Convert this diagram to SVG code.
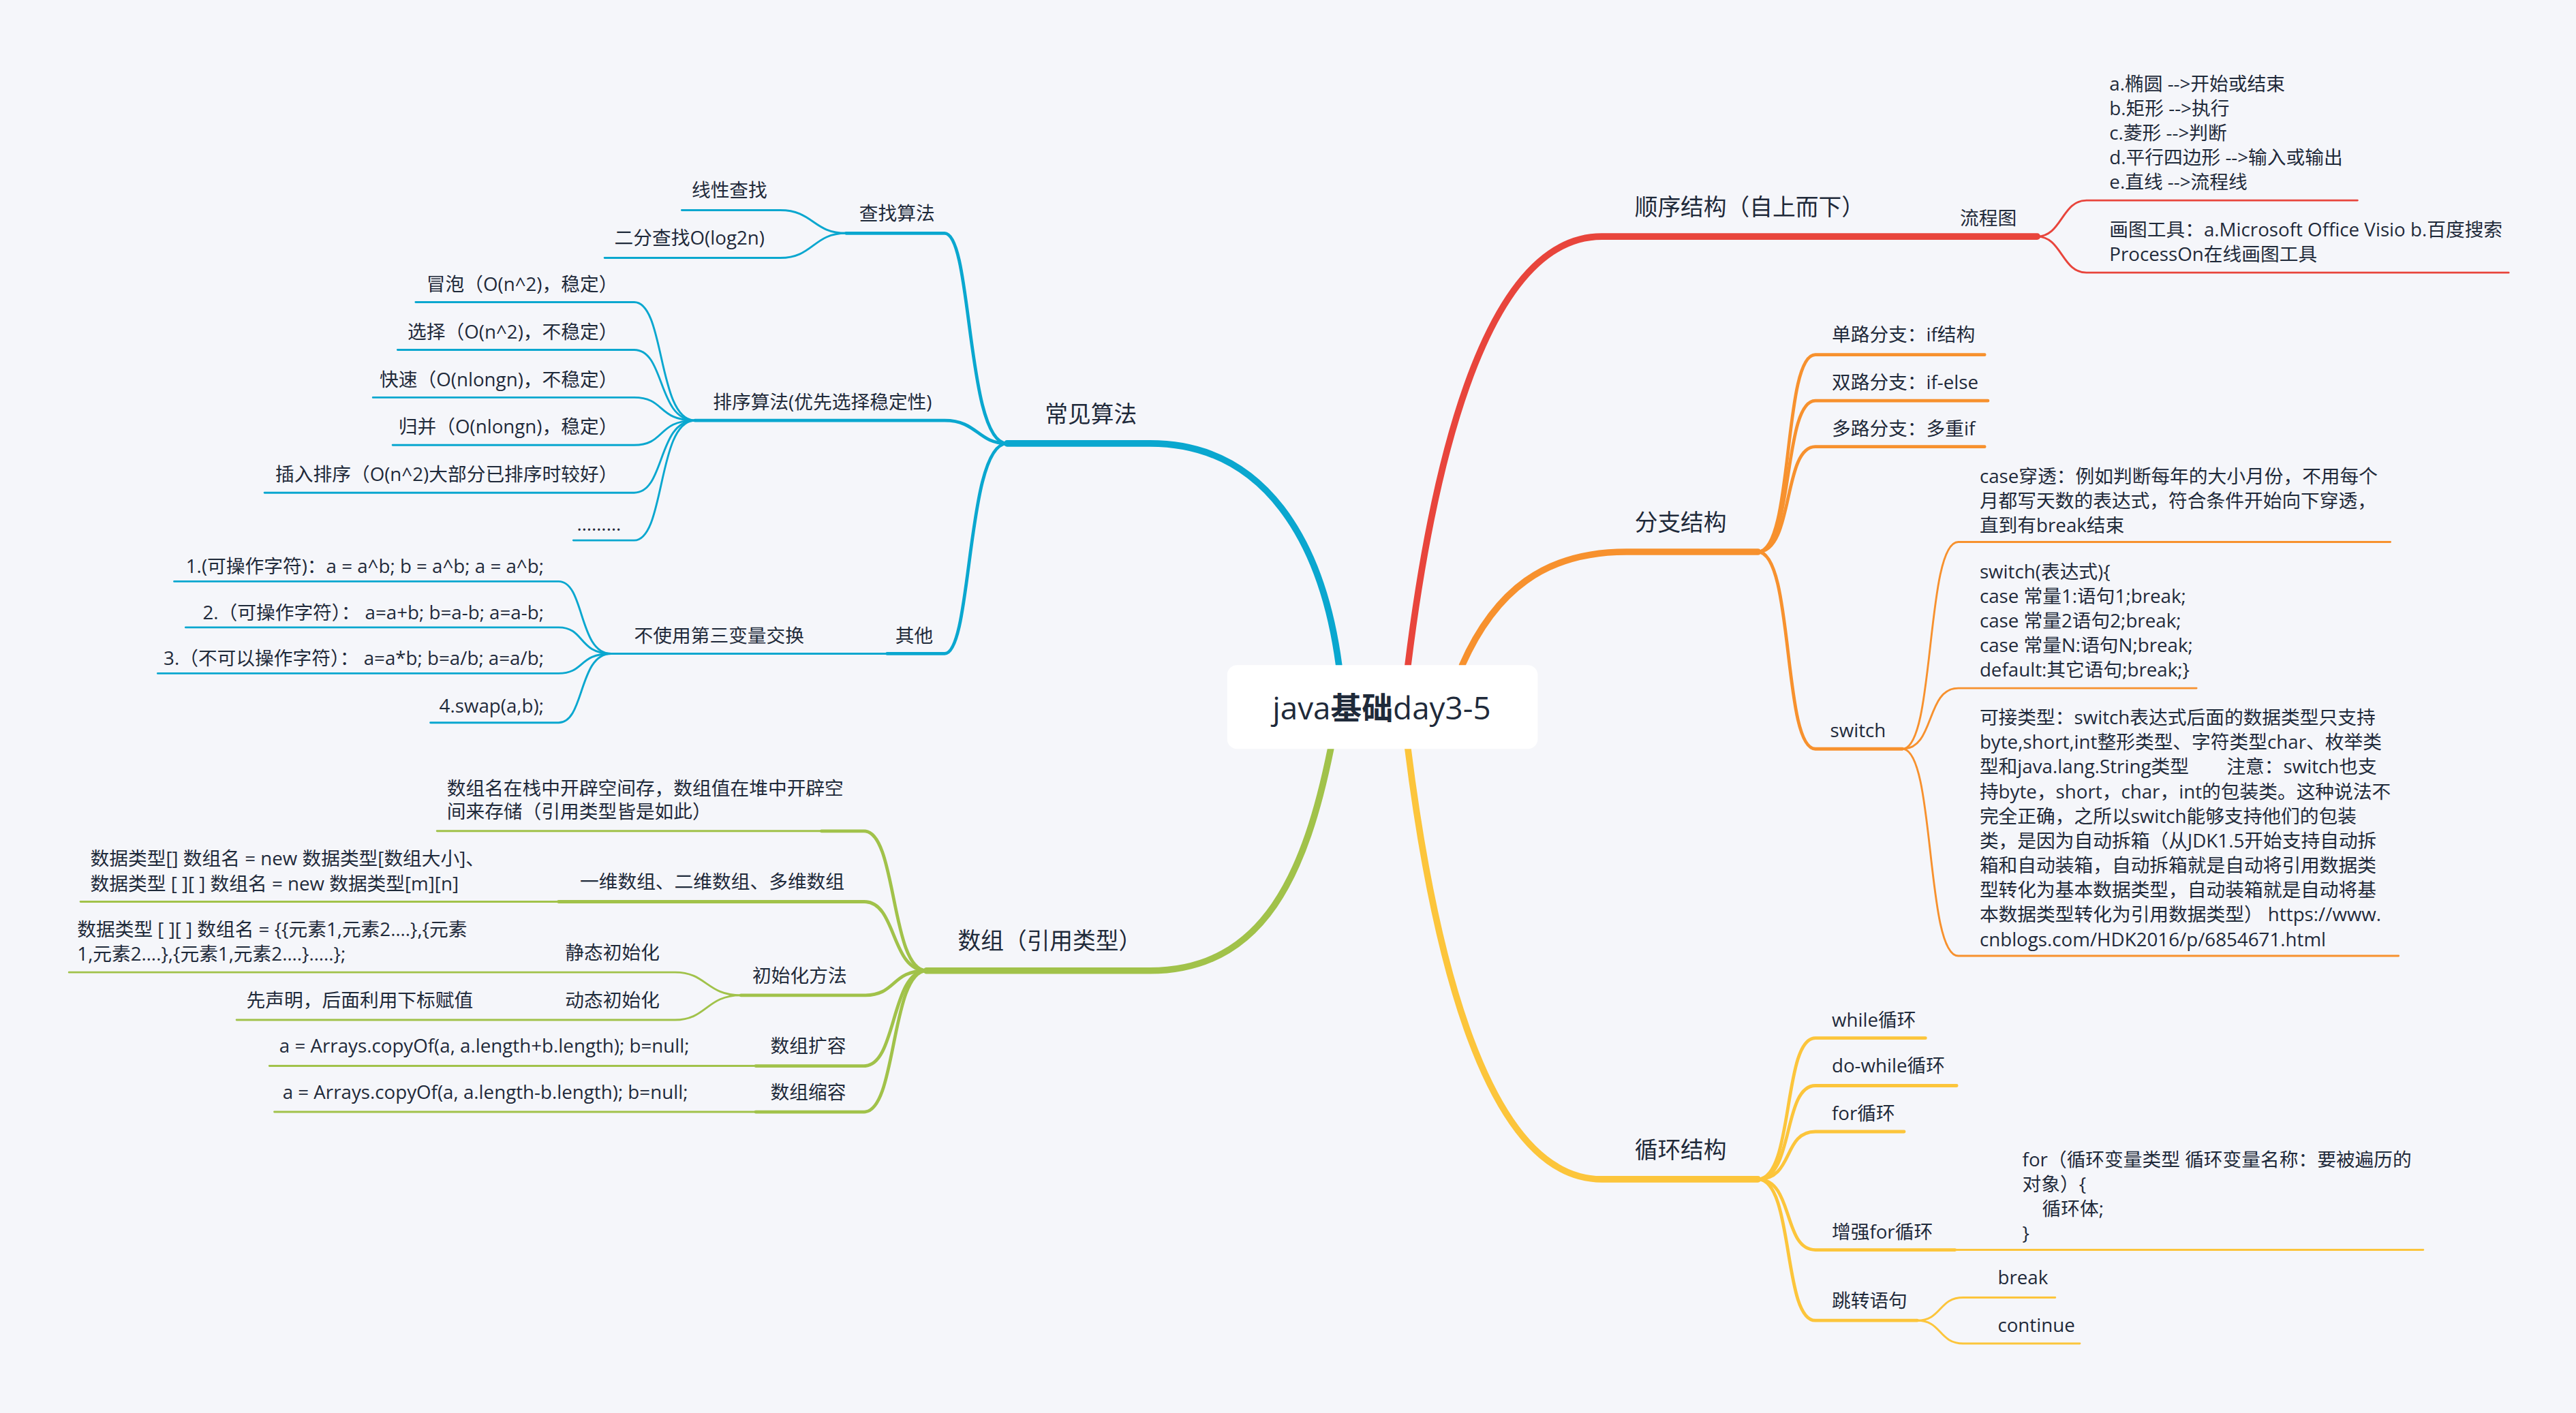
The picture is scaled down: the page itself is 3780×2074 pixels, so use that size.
<svg xmlns="http://www.w3.org/2000/svg" width="3780" height="2074" viewBox="0 0 3780 2074">
<style>
text{font-family:"Open Sans","Noto Sans CJK SC",sans-serif;fill:#1f2a3a;font-size:11.5px}
.m{font-size:14px}
.c{font-size:19px}
.e{text-anchor:end}
path{fill:none;stroke-linecap:round}
.red{stroke:#e8453c}.org{stroke:#f7912e}.yel{stroke:#fcc53b}.blu{stroke:#0aa7cf}.grn{stroke:#a1c24a}
.w4{stroke-width:4}.w2{stroke-width:2}.w1{stroke-width:1.2}
</style>
<rect width="3780" height="2074" fill="#f5f6fa"/>
<g transform="scale(2.41071)">
<g id="connectors">
<path class="red w4" d="M857,405 C870,300 900,144 975,144 H1240"/>
<path class="red w1" d="M1240,144 C1255,144 1255,122 1270,122 H1435"/>
<path class="red w1" d="M1240,144 C1255,144 1255,166 1270,166 H1527"/>
<path class="org w4" d="M890,405 C910,360 940,336 990,336 H1070"/>
<path class="org w2" d="M1070,336 C1092,336 1085,216 1105,216 H1208"/>
<path class="org w2" d="M1070,336 C1092,336 1085,244 1105,244 H1210"/>
<path class="org w2" d="M1070,336 C1092,336 1085,272 1105,272 H1208"/>
<path class="org w2" d="M1070,336 C1092,336 1085,456 1105,456 H1158"/>
<path class="org w1" d="M1158,456 C1178,456 1172,330 1192,330 H1455"/>
<path class="org w1" d="M1158,456 C1178,456 1172,419 1192,419 H1337"/>
<path class="org w1" d="M1158,456 C1178,456 1172,582 1192,582 H1460"/>
<path class="yel w4" d="M857,456 C870,560 900,718 975,718 H1070"/>
<path class="yel w2" d="M1070,718 C1092,718 1085,632 1105,632 H1172"/>
<path class="yel w2" d="M1070,718 C1092,718 1085,661 1105,661 H1191"/>
<path class="yel w2" d="M1070,718 C1092,718 1085,689 1105,689 H1159"/>
<path class="yel w2" d="M1070,718 C1092,718 1085,761 1105,761 H1190"/>
<path class="yel w1" d="M1190,761 H1475"/>
<path class="yel w2" d="M1070,718 C1092,718 1085,804 1105,804 H1167"/>
<path class="yel w1" d="M1167,804 C1182,804 1180,790 1195,790 H1251"/>
<path class="yel w1" d="M1167,804 C1182,804 1180,818 1195,818 H1266"/>
<path class="blu w4" d="M815,405 C805,330 770,270 700,270 H613"/>
<path class="blu w2" d="M613,270 C588,270 592,142 575,142 H515"/>
<path class="blu w2" d="M613,270 C595,270 595,256 575,256 H423"/>
<path class="blu w2" d="M613,270 C588,270 592,398 575,398 H540"/>
<path class="blu w1" d="M540,398 H372"/>
<path class="blu w1" d="M515,142 C495,142 495,128 475,128 H415"/>
<path class="blu w1" d="M515,142 C495,142 495,157 475,157 H368"/>
<path class="blu w1" d="M423,256 C400,256 405,184 386,184 H253"/>
<path class="blu w1" d="M423,256 C400,256 405,213 386,213 H242"/>
<path class="blu w1" d="M423,256 C400,256 405,242 386,242 H227"/>
<path class="blu w1" d="M423,256 C400,256 405,271 386,271 H239"/>
<path class="blu w1" d="M423,256 C400,256 405,300 386,300 H161"/>
<path class="blu w1" d="M423,256 C400,256 405,329 386,329 H349"/>
<path class="blu w1" d="M372,398 C352,398 356,354 340,354 H106"/>
<path class="blu w1" d="M372,398 C352,398 356,382 340,382 H113"/>
<path class="blu w1" d="M372,398 C352,398 356,410 340,410 H96"/>
<path class="blu w1" d="M372,398 C352,398 356,440 340,440 H262"/>
<path class="grn w4" d="M810,456 C795,530 770,591 700,591 H564"/>
<path class="grn w2" d="M564,591 C542,591 546,506 526,506 H500"/>
<path class="grn w1" d="M500,506 H266"/>
<path class="grn w2" d="M564,591 C542,591 546,549 526,549 H340"/>
<path class="grn w1" d="M340,549 H49"/>
<path class="grn w2" d="M564,591 C542,591 546,606 526,606 H451"/>
<path class="grn w2" d="M564,591 C542,591 546,649 526,649 H460"/>
<path class="grn w1" d="M460,649 H164"/>
<path class="grn w2" d="M564,591 C542,591 546,677 526,677 H460"/>
<path class="grn w1" d="M460,677 H167"/>
<path class="grn w1" d="M451,606 C430,606 430,592 411,592 H42"/>
<path class="grn w1" d="M451,606 C430,606 430,621 411,621 H144"/>
</g>
<g id="center"><rect x="747" y="405" width="189" height="51" rx="6" fill="#fff"/><text class="c" x="841" y="438" text-anchor="middle">java<tspan font-weight="bold">基础</tspan>day3-5</text></g>
<g id="shunxu"><text class="m" x="995" y="131">顺序结构（自上而下）</text><text x="1193" y="137">流程图</text>
<text x="1284" y="55">a.椭圆 --&gt;开始或结束</text><text x="1284" y="70">b.矩形 --&gt;执行</text><text x="1284" y="85">c.菱形 --&gt;判断</text><text x="1284" y="100">d.平行四边形 --&gt;输入或输出</text><text x="1284" y="115">e.直线 --&gt;流程线</text>
<text x="1284" y="144">画图工具：a.Microsoft Office Visio b.百度搜索</text><text x="1284" y="159">ProcessOn在线画图工具</text></g>
<g id="fenzhi"><text class="m" x="995" y="323">分支结构</text>
<text x="1115" y="208">单路分支：if结构</text><text x="1115" y="237">双路分支：if-else</text><text x="1115" y="265">多路分支：多重if</text><text x="1114" y="449">switch</text>
<text x="1205" y="294">case穿透：例如判断每年的大小月份，不用每个</text><text x="1205" y="309">月都写天数的表达式，符合条件开始向下穿透，</text><text x="1205" y="324">直到有break结束</text>
<text x="1205" y="352">switch(表达式){</text><text x="1205" y="367">case 常量1:语句1;break;</text><text x="1205" y="382">case 常量2语句2;break;</text><text x="1205" y="397">case 常量N:语句N;break;</text><text x="1205" y="412">default:其它语句;break;}</text>
<text x="1205" y="441">可接类型：switch表达式后面的数据类型只支持</text><text x="1205" y="456">byte,short,int整形类型、字符类型char、枚举类</text><text x="1205" y="471">型和java.lang.String类型　　注意：switch也支</text><text x="1205" y="486">持byte，short，char，int的包装类。这种说法不</text><text x="1205" y="501">完全正确，之所以switch能够支持他们的包装</text><text x="1205" y="516">类，是因为自动拆箱（从JDK1.5开始支持自动拆</text><text x="1205" y="531">箱和自动装箱，自动拆箱就是自动将引用数据类</text><text x="1205" y="546">型转化为基本数据类型，自动装箱就是自动将基</text><text x="1205" y="561">本数据类型转化为引用数据类型） https://www.</text><text x="1205" y="576">cnblogs.com/HDK2016/p/6854671.html</text></g>
<g id="xunhuan"><text class="m" x="995" y="705">循环结构</text>
<text x="1115" y="625">while循环</text><text x="1115" y="653">do-while循环</text><text x="1115" y="682">for循环</text><text x="1115" y="754">增强for循环</text><text x="1115" y="796">跳转语句</text>
<text x="1231" y="710">for（循环变量类型 循环变量名称：要被遍历的</text><text x="1231" y="725">对象）{</text><text x="1243" y="740">循环体;</text><text x="1231" y="755">}</text>
<text x="1216" y="782">break</text><text x="1216" y="811">continue</text></g>
<g id="suanfa"><text class="m" x="636" y="257">常见算法</text>
<text x="523" y="134">查找算法</text><text x="421" y="120">线性查找</text><text x="374" y="149">二分查找O(log2n)</text>
<text x="434" y="249">排序算法(优先选择稳定性)</text>
<text class="e" x="376" y="177">冒泡（O(n^2)，稳定）</text><text class="e" x="376" y="206">选择（O(n^2)，不稳定）</text><text class="e" x="376" y="235">快速（O(nlongn)，不稳定）</text><text class="e" x="376" y="264">归并（O(nlongn)，稳定）</text><text class="e" x="376" y="293">插入排序（O(n^2)大部分已排序时较好）</text><text class="e" x="378" y="323">………</text>
<text x="545" y="391">其他</text><text x="386" y="391">不使用第三变量交换</text>
<text class="e" x="331" y="349">1.(可操作字符)：a = a^b; b = a^b; a = a^b;</text><text class="e" x="331" y="377">2.（可操作字符）： a=a+b; b=a-b; a=a-b;</text><text class="e" x="331" y="405">3.（不可以操作字符）： a=a*b; b=a/b; a=a/b;</text><text class="e" x="331" y="434">4.swap(a,b);</text></g>
<g id="shuzu"><text class="m" x="583" y="578">数组（引用类型）</text>
<text x="272" y="484">数组名在栈中开辟空间存，数组值在堆中开辟空</text><text x="272" y="498">间来存储（引用类型皆是如此）</text>
<text x="55" y="527">数据类型[] 数组名 = new 数据类型[数组大小]、</text><text x="55" y="542">数据类型 [ ][ ]  数组名 = new 数据类型[m][n]</text><text x="353" y="541">一维数组、二维数组、多维数组</text>
<text x="47" y="570">数据类型 [ ][ ]   数组名 = {{元素1,元素2….},{元素</text><text x="47" y="585">1,元素2….},{元素1,元素2….}…..};</text>
<text x="344" y="584">静态初始化</text><text x="458" y="598">初始化方法</text><text x="344" y="613">动态初始化</text><text x="150" y="613">先声明，后面利用下标赋值</text>
<text x="170" y="641">a = Arrays.copyOf(a, a.length+b.length); b=null;</text><text x="469" y="641">数组扩容</text>
<text x="172" y="669">a = Arrays.copyOf(a, a.length-b.length); b=null;</text><text x="469" y="669">数组缩容</text></g>
</g>
</svg>
